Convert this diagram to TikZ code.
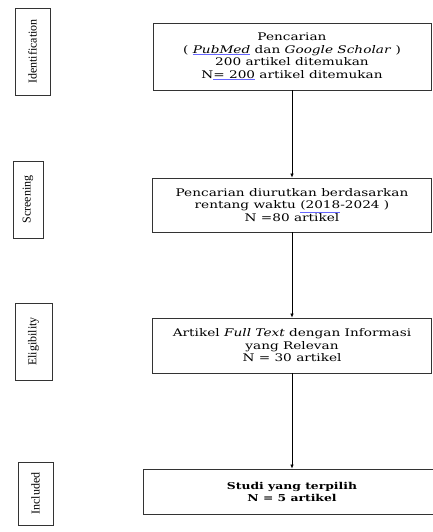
\documentclass[tikz,border=0pt]{standalone}
\usepackage{fontspec}
\setmainfont{DejaVu Serif}[FakeStretch=1.3]
\newfontfamily\sidefont{Liberation Serif}
\usetikzlibrary{arrows.meta}
\newcommand{\spellul}[1]{\textcolor{blue!60}{\underline{\textcolor{black}{#1}}}}
\tikzset{
  stage/.style={draw=black!80, line width=0.8pt, fill=white, align=center, inner sep=2pt,
    font=\fontsize{10.5}{12.5}\selectfont},
  phase/.style={draw=black!80, line width=0.8pt, rotate=90, inner sep=1pt,
    font=\sidefont\fontsize{12}{13}\selectfont},
  flow/.style={-{Latex[length=4pt,width=3.5pt]}, line width=0.7pt}
}

\begin{document}
\begin{tikzpicture}[x=1pt,y=-1pt]
\useasboundingbox (0,0) rectangle (433,532);
% phases
\node[phase, minimum width=87pt, minimum height=35pt] (ident) at (32.5,51.5) {Identification};
\node[phase, minimum width=77pt, minimum height=30pt] (scrn) at (28,199.5) {Screening};
\node[phase, minimum width=77pt, minimum height=37pt] (elig) at (33.5,341.5) {Eligibility};
\node[phase, minimum width=63pt, minimum height=35pt] (incl) at (35.5,493.5) {Included};
% stages
\node[stage, minimum width=278pt, minimum height=67pt] (search) at (292,56.5)
  {Pencarian\\( \textit{\spellul{PubMed}} dan \textit{Google Scholar} )\\200 artikel ditemukan\\N\spellul{=\ 200} artikel ditemukan};
\node[stage, minimum width=279pt, minimum height=54pt] (screen) at (292,205)
  {Pencarian diurutkan berdasarkan\\rentang waktu \spellul{(2018}-2024 )\\N =80 artikel};
\node[stage, minimum width=279pt, minimum height=55pt] (full) at (292,345.5)
  {Artikel \textit{Full Text} dengan Informasi\\yang Relevan\\N = 30 artikel};
\node[stage, minimum width=298pt, minimum height=45pt, font=\bfseries\fontsize{9.5}{12}\selectfont] (pick) at (292,491.5)
  {Studi yang terpilih\\N = 5 artikel};
% arrows
\draw[flow] (search) -- (screen);
\draw[flow] (screen) -- (full);
\draw[flow] (full) -- (pick);
\end{tikzpicture}
\end{document}
